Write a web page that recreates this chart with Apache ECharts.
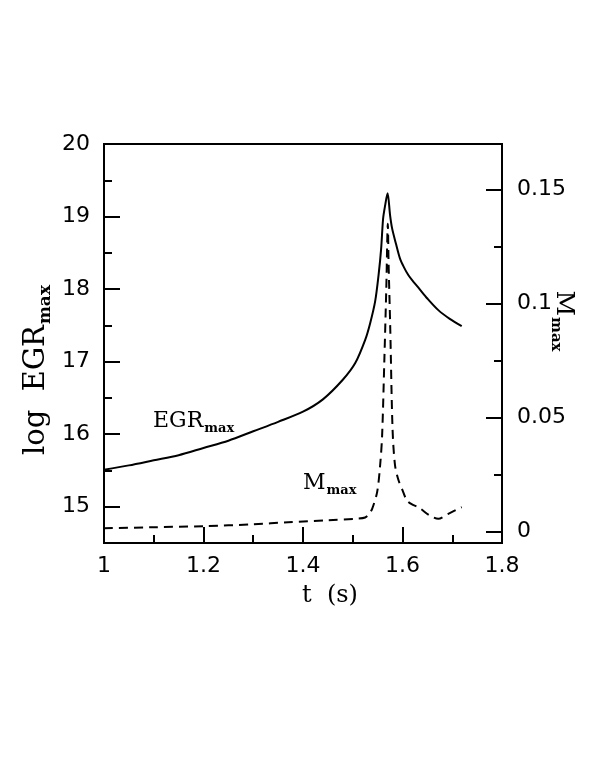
<!DOCTYPE html>
<html>
<head>
<meta charset="utf-8">
<script src="https://cdn.jsdelivr.net/npm/echarts@6/dist/echarts.min.js"></script>
<style>
  html, body { margin: 0; padding: 0; background: #fff; }
  #chart { width: 593px; height: 768px; }
</style>
</head>
<body>
<div id="chart"></div>
<script>
// time axis (s)
var tTicks = [1, 1.2, 1.4, 1.6, 1.8];
// left axis: log EGR_max
var egrTicks = [15, 16, 17, 18, 19, 20];
var egrMinorTicks = [15.5, 16.5, 17.5, 18.5, 19.5];
// right axis: M_max
var mTicks = [0, 0.05, 0.1, 0.15];
var mMinorTicks = [0.025, 0.075, 0.125];

// solid curve, log EGR_max vs t
var egrT = [1.00, 1.05, 1.10, 1.15, 1.20, 1.25, 1.30, 1.35, 1.40, 1.44, 1.48, 1.505, 1.525, 1.535, 1.545, 1.552, 1.557, 1.561, 1.565, 1.570, 1.575, 1.579, 1.587, 1.595, 1.603, 1.612, 1.622, 1.632, 1.65, 1.672, 1.695, 1.719];
var egrVal = [15.51, 15.57, 15.64, 15.71, 15.81, 15.91, 16.04, 16.17, 16.31, 16.48, 16.75, 16.98, 17.30, 17.53, 17.83, 18.20, 18.55, 18.97, 19.15, 19.32, 19.02, 18.84, 18.62, 18.42, 18.30, 18.19, 18.10, 18.02, 17.87, 17.71, 17.59, 17.49];

// dashed curve, M_max vs t
var mT = [1.00, 1.10, 1.20, 1.30, 1.37, 1.45, 1.51, 1.525, 1.532, 1.539, 1.549, 1.555, 1.559, 1.5634, 1.5674, 1.5705, 1.572, 1.5754, 1.580, 1.585, 1.592, 1.599, 1.609, 1.62, 1.632, 1.655, 1.672, 1.692, 1.719];
var mVal = [0.0015, 0.0019, 0.0024, 0.0032, 0.0041, 0.0050, 0.0057, 0.0062, 0.0075, 0.0100, 0.0173, 0.029, 0.042, 0.0743, 0.1065, 0.135, 0.118, 0.089, 0.045, 0.029, 0.0225, 0.0187, 0.0136, 0.0118, 0.0107, 0.0070, 0.0056, 0.0078, 0.0107];

function pairs(xs, ys) {
  var out = [];
  for (var i = 0; i < xs.length; i++) out.push([xs[i], ys[i]]);
  return out;
}

var chart = echarts.init(document.getElementById('chart'), null, { renderer: 'canvas' });

var tickFont = { fontFamily: 'DejaVu Sans', fontSize: 22, color: '#000' };
var subStyle = { fontFamily: 'DejaVu Serif', fontWeight: 'bold', fontSize: 13, color: '#000', padding: [16, 0, 0, 1] };
var axisSub = { fontFamily: 'DejaVu Serif', fontWeight: 'bold', fontSize: 17, color: '#000', padding: [18, 0, 0, 1] };

var option = {
  backgroundColor: '#fff',
  animation: false,
  grid: {
    left: 104, right: 91, top: 144, bottom: 225,
    show: true, borderColor: '#000', borderWidth: 2,
    outerBoundsMode: 'none'
  },
  xAxis: {
    type: 'value',
    min: 1, max: 1.8, interval: 0.2,
    name: 't  (s)',
    nameLocation: 'middle',
    nameGap: 41,
    nameMoveOverlap: false,
    nameTextStyle: { fontFamily: 'DejaVu Serif', fontSize: 24, color: '#000', padding: [0, 0, 0, 54] },
    axisLine: { onZero: false, lineStyle: { color: '#000', width: 2 } },
    axisTick: { inside: true, length: 16, lineStyle: { color: '#000', width: 2 } },
    minorTick: { show: true, splitNumber: 2, length: 8, lineStyle: { color: '#000', width: 2 } },
    axisLabel: Object.assign({ margin: 12, formatter: function (v) { return String(v); } }, tickFont),
    splitLine: { show: false }
  },
  yAxis: [{
    type: 'value',
    position: 'left',
    min: 14.5, max: 20,
    name: '{a|log  EGR}{b|max}',
    nameLocation: 'middle',
    nameGap: 50,
    nameMoveOverlap: false,
    nameTextStyle: {
      padding: [0, 53, 0, 0],
      rich: {
        a: { fontFamily: 'DejaVu Serif', fontSize: 29, color: '#000' },
        b: axisSub
      }
    },
    axisLine: { lineStyle: { color: '#000', width: 2 } },
    axisTick: { inside: true, length: 16, customValues: egrTicks, lineStyle: { color: '#000', width: 2 } },
    axisLabel: Object.assign({ margin: 14, customValues: egrTicks }, tickFont),
    splitLine: { show: false }
  }, {
    type: 'value',
    position: 'right',
    min: -0.005, max: 0.17,
    name: '{a|M}{b|max}',
    nameLocation: 'middle',
    nameRotate: -90,
    nameGap: 46,
    nameMoveOverlap: false,
    nameTextStyle: {
      padding: [0, 45, 0, 0],
      rich: {
        a: { fontFamily: 'DejaVu Serif', fontSize: 25, color: '#000' },
        b: { fontFamily: 'DejaVu Serif', fontWeight: 'bold', fontSize: 15, color: '#000', padding: [16, 0, 0, 1] }
      }
    },
    axisLine: { lineStyle: { color: '#000', width: 2 } },
    axisTick: { inside: true, length: 16, customValues: mTicks, lineStyle: { color: '#000', width: 2 } },
    axisLabel: Object.assign({ margin: 15, customValues: mTicks, formatter: function (v) { return String(v); } }, tickFont),
    splitLine: { show: false }
  }, {
    // minor ticks, left
    type: 'value',
    position: 'left',
    min: 14.5, max: 20,
    axisLine: { show: false },
    axisTick: { inside: true, length: 8, customValues: egrMinorTicks, lineStyle: { color: '#000', width: 2 } },
    axisLabel: { show: false },
    splitLine: { show: false }
  }, {
    // minor ticks, right
    type: 'value',
    position: 'right',
    min: -0.005, max: 0.17,
    axisLine: { show: false },
    axisTick: { inside: true, length: 8, customValues: mMinorTicks, lineStyle: { color: '#000', width: 2 } },
    axisLabel: { show: false },
    splitLine: { show: false }
  }],
  series: [{
    name: 'EGRmax',
    type: 'line',
    yAxisIndex: 0,
    showSymbol: false,
    smooth: 0.3,
    lineStyle: { color: '#000', width: 2 },
    data: pairs(egrT, egrVal)
  }, {
    name: 'Mmax',
    type: 'line',
    yAxisIndex: 1,
    showSymbol: false,
    smooth: 0.3,
    lineStyle: { color: '#000', width: 2, type: [9, 6] },
    data: pairs(mT, mVal)
  }],
  graphic: [{
    type: 'text',
    left: 153, top: 410,
    style: {
      text: '{a|EGR}{b|max}',
      rich: {
        a: { fontFamily: 'DejaVu Serif', fontSize: 22, color: '#000' },
        b: subStyle
      }
    }
  }, {
    type: 'text',
    left: 303, top: 472,
    style: {
      text: '{a|M}{b|max}',
      rich: {
        a: { fontFamily: 'DejaVu Serif', fontSize: 22, color: '#000' },
        b: subStyle
      }
    }
  }]
};

chart.setOption(option);
</script>
</body>
</html>
